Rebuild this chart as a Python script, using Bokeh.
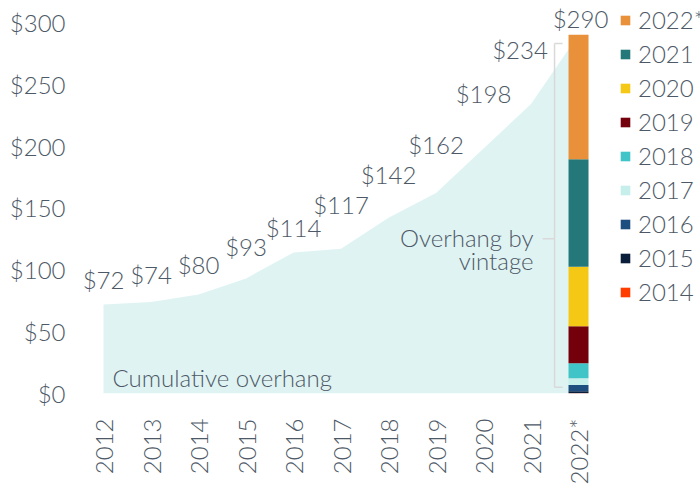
import math
from bokeh.plotting import figure
from bokeh.models import (ColumnDataSource, Range1d, FixedTicker, NumeralTickFormatter,
                          Legend, LegendItem)
from bokeh.core.properties import value
from bokeh.embed import file_html
from bokeh.resources import INLINE

# ---------------- data ----------------
years = ["2012", "2013", "2014", "2015", "2016", "2017", "2018", "2019", "2020", "2021", "2022*"]
cumulative = [72, 74, 80, 93, 114, 117, 142, 162, 198, 234, 290]
value_labels = ["$72", "$74", "$80", "$93", "$114", "$117", "$142", "$162", "$198", "$234", "$290"]

vintages = ["2014", "2015", "2016", "2017", "2018", "2019", "2020", "2021", "2022*"]
vintage_values = [0.3, 1.6, 5.0, 5.5, 12.0, 30.0, 48.0, 87.0, 100.6]
vintage_colors = ["#ff3d00", "#0a1d3a", "#1e4d80", "#c6eeeb", "#40c4c8",
                  "#74000b", "#f5c816", "#24787a", "#e8913a"]

y_ticks = [0, 50, 100, 150, 200, 250, 300]

# label placement (screen px, styling only)
label_dy = [25, 27, 30, 32, 25, 44, 43, 49, 55, 55, 16]
label_dx = [0, 0, 0, 0, 0, 0, 0, 0, 0, -11, 2]

FONT_STR = "'Lato Light', Lato, sans-serif"
FONT = value(FONT_STR)
TXT = "#4d5966"
FS = "24px"

xs = list(range(len(years)))
bar_x = xs[-1]

p = figure(width=700, frame_height=393, output_backend="svg", toolbar_location=None,
           x_range=Range1d(-0.653, 12.568), y_range=Range1d(0, 317.7),
           min_border_left=72, min_border_right=0, min_border_top=0, min_border_bottom=0)
p.outline_line_color = None
p.grid.grid_line_color = None
p.background_fill_color = "white"

# cumulative area
p.varea(x=xs, y1=[0] * len(xs), y2=cumulative, fill_color="#e0f3f3")

# bracket for "overhang by vintage"
br_x, br_top, br_bot, br_mid = 9.495, 283, 5, 125
p.segment(x0=[br_x, br_x, br_x, br_x - 0.25], y0=[br_bot, br_top, br_bot, br_mid],
          x1=[br_x, br_x + 0.17, br_x + 0.17, br_x], y1=[br_top, br_top, br_bot, br_mid],
          line_color="#d9d9d9", line_width=1.5)

# stacked bar by vintage
src = ColumnDataSource(dict(x=[bar_x], **{v: [val] for v, val in zip(vintages, vintage_values)}))
rs = p.vbar_stack(vintages, x="x", width=0.421, color=vintage_colors, source=src, line_color=None)

# value labels
lsrc = ColumnDataSource(dict(x=xs, y=cumulative, t=value_labels,
                             dx=label_dx, dy=[-d for d in label_dy]))
p.text(x="x", y="y", text="t", x_offset="dx", y_offset="dy", source=lsrc,
       text_font=FONT, text_font_size=FS, text_color=TXT,
       text_align="center", text_baseline="middle")

# annotations
p.text(x=[0.19], y=[12.9], text=["Cumulative overhang"], text_font=FONT, text_font_size=FS,
       text_color=TXT, text_align="left", text_baseline="middle")
p.text(x=[9.053, 9.053], y=[126, 107.5], text=["Overhang by", "vintage"], text_font=FONT,
       text_font_size=FS, text_color=TXT, text_align="right", text_baseline="middle")

# axes
p.yaxis.ticker = FixedTicker(ticks=y_ticks)
p.yaxis.formatter = NumeralTickFormatter(format="$0")
p.xaxis.ticker = FixedTicker(ticks=xs)
p.xaxis.major_label_overrides = {i: y for i, y in enumerate(years)}
p.xaxis.major_label_orientation = math.pi / 2
for ax in (p.xaxis[0], p.yaxis[0]):
    ax.axis_line_color = None
    ax.major_tick_line_color = None
    ax.minor_tick_line_color = None
    ax.major_tick_out = 0
    ax.major_tick_in = 0
    ax.major_label_text_font = FONT_STR
    ax.major_label_text_font_size = FS
    ax.major_label_text_color = TXT
p.yaxis.major_label_standoff = 7
p.xaxis.major_label_standoff = 25

legend = Legend(items=[LegendItem(label=v, renderers=[r]) for v, r in reversed(list(zip(vintages, rs)))],
                location=(547, 87), glyph_width=12, glyph_height=12, label_standoff=7,
                spacing=5, padding=0, margin=0, label_height=29,
                border_line_color=None, background_fill_alpha=0,
                label_text_font=FONT_STR, label_text_font_size=FS, label_text_color=TXT)
p.add_layout(legend)

open("out.html", "w").write(file_html(p, INLINE))
